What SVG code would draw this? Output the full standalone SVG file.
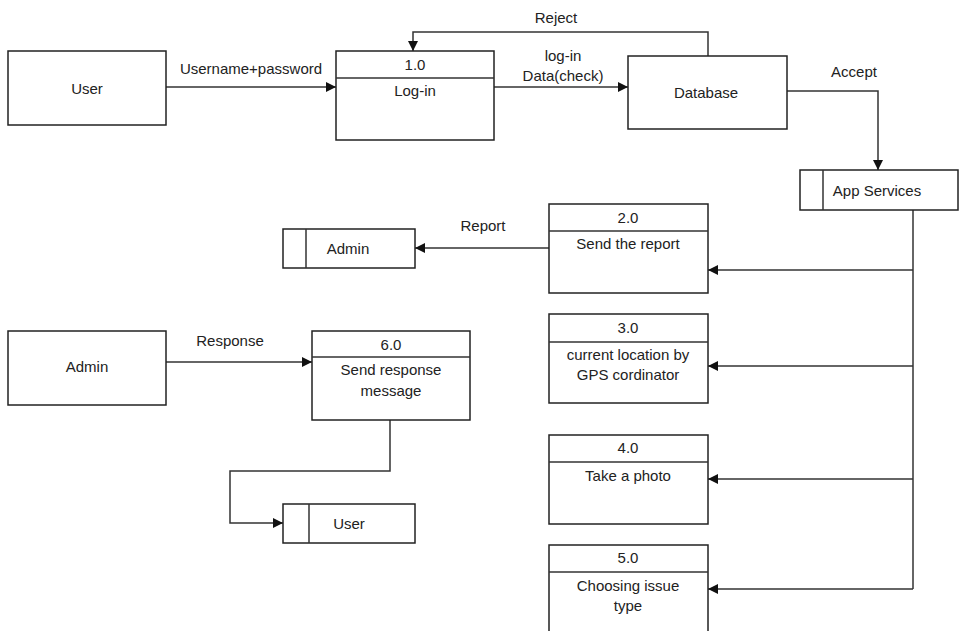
<svg xmlns="http://www.w3.org/2000/svg" width="960" height="631" viewBox="0 0 960 631">
<style>
  .box{fill:#fff;stroke:#222;stroke-width:1.5}
  .ln{fill:none;stroke:#333;stroke-width:1.5}
  .con{fill:none;stroke:#333;stroke-width:1.5;marker-end:url(#arr)}
  text{font-family:"Liberation Sans",Arial,sans-serif;font-size:15px;fill:#222;text-anchor:middle;dominant-baseline:central}
  .l{text-anchor:start}
</style>
<defs>
  <marker id="arr" viewBox="0 0 10 10" refX="10" refY="5" markerWidth="10" markerHeight="10" markerUnits="userSpaceOnUse" orient="auto">
    <path d="M0,0 L10,5 L0,10 z" fill="#111"/>
  </marker>
</defs>
<rect width="960" height="631" fill="#fff"/>

<g id="connectors">
  <path class="con" d="M166,87 H336"/>
  <path class="con" d="M494,87 H628"/>
  <path class="con" d="M708,56 V32 H413 V51"/>
  <path class="con" d="M787,91 H878 V170"/>
  <path class="ln" d="M913,210 V589"/>
  <path class="con" d="M913,270 H708"/>
  <path class="con" d="M913,366 H708"/>
  <path class="con" d="M913,479 H708"/>
  <path class="con" d="M913,589 H708"/>
  <path class="con" d="M549,248 H415"/>
  <path class="con" d="M166,362 H312"/>
  <path class="con" d="M390,420 V471 H230 V523 H283"/>
  <text x="251" y="68">Username+password</text>
  <text x="556" y="17">Reject</text>
  <text x="563" y="55">log-in</text>
  <text x="563" y="75">Data(check)</text>
  <text x="854" y="71">Accept</text>
  <text x="483" y="225">Report</text>
  <text x="230" y="340">Response</text>
</g>

<g id="user-ext">
  <rect class="box" x="8" y="51" width="158" height="74"/>
  <text x="87" y="88">User</text>
</g>

<g id="p1">
  <rect class="box" x="336" y="51" width="158" height="89"/>
  <line class="ln" x1="336" y1="78" x2="494" y2="78"/>
  <text x="415" y="64">1.0</text>
  <text x="415" y="90">Log-in</text>
</g>

<g id="database">
  <rect class="box" x="628" y="56" width="159" height="73"/>
  <text x="706" y="92">Database</text>
</g>

<g id="app-services">
  <rect class="box" x="800" y="170" width="158" height="40"/>
  <line class="ln" x1="823" y1="170" x2="823" y2="210"/>
  <text x="877" y="190">App Services</text>
</g>

<g id="admin-store">
  <rect class="box" x="283" y="229" width="132" height="39"/>
  <line class="ln" x1="306" y1="229" x2="306" y2="268"/>
  <text x="348" y="248">Admin</text>
</g>

<g id="p2">
  <rect class="box" x="549" y="204" width="159" height="89"/>
  <line class="ln" x1="549" y1="231" x2="708" y2="231"/>
  <text x="628" y="217">2.0</text>
  <text x="628" y="243">Send the report</text>
</g>

<g id="p3">
  <rect class="box" x="549" y="314" width="159" height="89"/>
  <line class="ln" x1="549" y1="342" x2="708" y2="342"/>
  <text x="628" y="327">3.0</text>
  <text x="628" y="354">current location by</text>
  <text x="628" y="374">GPS cordinator</text>
</g>

<g id="p4">
  <rect class="box" x="549" y="435" width="159" height="89"/>
  <line class="ln" x1="549" y1="462" x2="708" y2="462"/>
  <text x="628" y="447">4.0</text>
  <text x="628" y="475">Take a photo</text>
</g>

<g id="p5">
  <rect class="box" x="549" y="545" width="159" height="92"/>
  <line class="ln" x1="549" y1="572" x2="708" y2="572"/>
  <text x="628" y="557">5.0</text>
  <text x="628" y="585">Choosing issue</text>
  <text x="628" y="605">type</text>
</g>

<g id="admin-ext">
  <rect class="box" x="8" y="331" width="158" height="74"/>
  <text x="87" y="366">Admin</text>
</g>

<g id="p6">
  <rect class="box" x="312" y="331" width="158" height="89"/>
  <line class="ln" x1="312" y1="357" x2="470" y2="357"/>
  <text x="391" y="344">6.0</text>
  <text x="391" y="369">Send response</text>
  <text x="391" y="390">message</text>
</g>

<g id="user-store">
  <rect class="box" x="283" y="504" width="132" height="39"/>
  <line class="ln" x1="309" y1="504" x2="309" y2="543"/>
  <text x="349" y="523">User</text>
</g>
</svg>
